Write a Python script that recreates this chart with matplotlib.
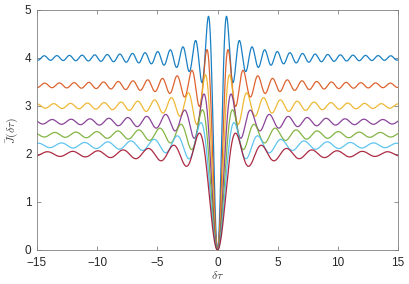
import matplotlib
matplotlib.use("Agg")
import matplotlib.pyplot as plt
import numpy as np

# Plateau level of each curve and its angular frequency
levels = [4.0, 3.43, 3.0, 2.67, 2.4, 2.18, 2.0]
omegas = [6.0, 5.14, 4.5, 4.0, 3.6, 3.27, 3.0]
colors = ["#0072BD", "#D95319", "#EDB120", "#7E2F8E", "#77AC30", "#4DBEEE", "#A2142F"]

x_ticks = [-15, -10, -5, 0, 5, 10, 15]
y_ticks = [0, 1, 2, 3, 4, 5]

plt.rcParams["mathtext.fontset"] = "cm"
plt.rcParams["font.family"] = ["Liberation Sans", "DejaVu Sans"]

fig = plt.figure(figsize=(4.09, 2.84), dpi=100)
ax = fig.add_axes([37 / 409, 34 / 284, 361 / 409, 240 / 284])

tau = np.linspace(-15, 15, 4001)
for level, omega, color in zip(levels, omegas, colors):
    j_bar = level * (1 - np.sinc(omega * tau / np.pi))
    ax.plot(tau, j_bar, color=color, linewidth=0.9, alpha=0.9)

ax.set_xlim(-15, 15)
ax.set_ylim(0, 5)
ax.set_xticks(x_ticks)
ax.set_yticks(y_ticks)
ax.tick_params(direction="in", top=True, right=True, length=3, width=0.6,
               colors="#808080", labelcolor="#262626", labelsize=8.5)
ax.tick_params(axis="x", pad=5)
ax.tick_params(axis="y", pad=4)
for spine in ax.spines.values():
    spine.set_color("#808080")
    spine.set_linewidth(0.6)

ax.set_xlabel(r"$\delta\tau$", fontsize=8.5, color="#404040", labelpad=1)
ax.set_ylabel(r"$\bar{J}(\delta\tau)$", fontsize=8.5, color="#404040", labelpad=3)

fig.savefig("out.png", dpi=100)
